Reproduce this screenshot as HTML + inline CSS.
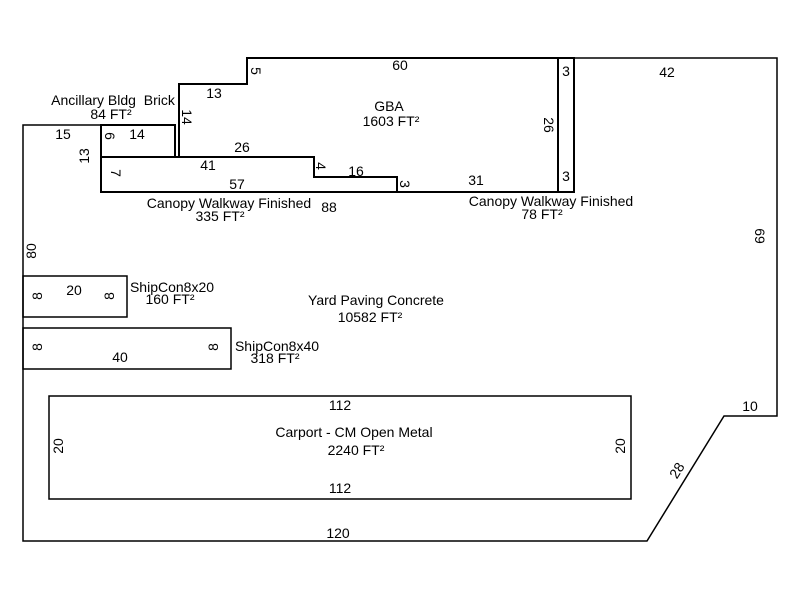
<!DOCTYPE html>
<html><head><style>body{margin:0;background:#fff}svg{display:block}text{font-family:"Liberation Sans",Arial,sans-serif;font-size:14px;fill:#000}</style></head><body>
<svg width="800" height="600" viewBox="0 0 800 600">
<rect width="800" height="600" fill="#fff"/>
<g fill="none" stroke="#000" stroke-width="1.5">
<polyline points="175,125 23,125 23,541 647,541 724,416 777,416 777,58 575,58"/>
<rect x="23" y="276" width="104" height="41"/>
<rect x="23" y="328" width="208" height="41"/>
<rect x="49" y="396" width="582" height="103"/>
</g>
<g fill="none" stroke="#000" stroke-width="2">
<polyline points="179,157 179,84 247,84 247,58 558,58 558,192 397,192"/>
<rect x="101" y="125" width="74" height="32"/>
<polygon points="101,157 314,157 314,177 397,177 397,192 101,192"/>
<rect x="558" y="58" width="16" height="134"/>
</g>
<g text-anchor="middle">
<text x="400" y="70">60</text>
<text x="214" y="98">13</text>
<text x="389" y="111">GBA</text>
<text x="391" y="126">1603 FT²</text>
<text x="113" y="105">Ancillary Bldg&#160; Brick</text>
<text x="111" y="119">84 FT²</text>
<text x="63" y="139">15</text>
<text x="137" y="139">14</text>
<text x="242" y="152">26</text>
<text x="208" y="170">41</text>
<text x="356" y="176">16</text>
<text x="237" y="189">57</text>
<text x="476" y="185">31</text>
<text x="566" y="76">3</text>
<text x="566" y="181">3</text>
<text x="667" y="77">42</text>
<text x="229" y="208">Canopy Walkway Finished</text>
<text x="220" y="221">335 FT²</text>
<text x="329" y="212">88</text>
<text x="551" y="206">Canopy Walkway Finished</text>
<text x="542" y="219">78 FT²</text>
<text x="74" y="295">20</text>
<text x="172" y="292">ShipCon8x20</text>
<text x="170" y="304">160 FT²</text>
<text x="376" y="305">Yard Paving Concrete</text>
<text x="370" y="322">10582 FT²</text>
<text x="277" y="351">ShipCon8x40</text>
<text x="275" y="363">318 FT²</text>
<text x="120" y="362">40</text>
<text x="340" y="410">112</text>
<text x="354" y="437">Carport - CM Open Metal</text>
<text x="356" y="455">2240 FT²</text>
<text x="340" y="493">112</text>
<text x="750" y="411">10</text>
<text x="338" y="538">120</text>
<text transform="translate(251,71) rotate(90)">5</text>
<text transform="translate(182,117) rotate(90)">14</text>
<text transform="translate(105,136) rotate(90)">6</text>
<text transform="translate(89,156) rotate(-90)">13</text>
<text transform="translate(111,173) rotate(90)">7</text>
<text transform="translate(316,166) rotate(90)">4</text>
<text transform="translate(400,184) rotate(90)">3</text>
<text transform="translate(544,125) rotate(90)">26</text>
<text transform="translate(36,251) rotate(-90)">80</text>
<text transform="translate(755,236) rotate(90)">69</text>
<text transform="translate(42,296) rotate(-90)">8</text>
<text transform="translate(114,296) rotate(-90)">8</text>
<text transform="translate(42,347) rotate(-90)">8</text>
<text transform="translate(218,347) rotate(-90)">8</text>
<text transform="translate(63,446) rotate(-90)">20</text>
<text transform="translate(625,446) rotate(-90)">20</text>
<text transform="translate(681,473) rotate(-58)">28</text>
</g>
</svg>
</body></html>
